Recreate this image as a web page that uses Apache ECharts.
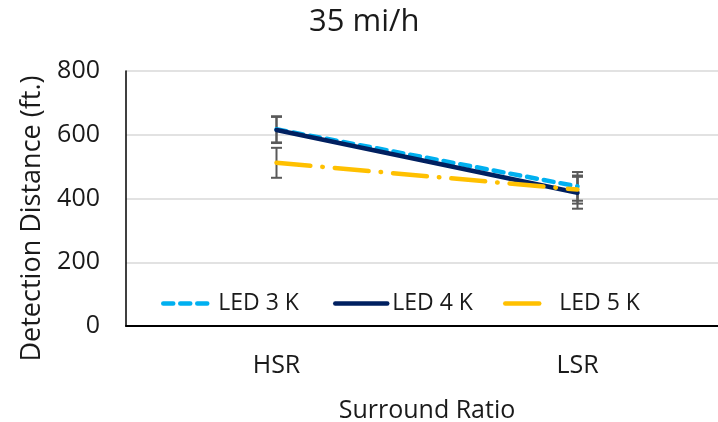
<!DOCTYPE html>
<html>
<head>
<meta charset="utf-8">
<script src="https://cdn.jsdelivr.net/npm/echarts@6/dist/echarts.min.js"></script>
<style>
  html, body { margin: 0; padding: 0; background: #fff; }
  #chart { width: 718px; height: 422px; }
</style>
</head>
<body>
<div id="chart"></div>
<script>
// Detection distance by surround ratio at 35 mi/h, for three LED colour temperatures
const categories = ['HSR', 'LSR'];
const yTicks = [0, 200, 400, 600, 800];

const led3k = [617, 438];
const led4k = [615, 418];
const led5k = [512, 428];

// half-width of the error bars (ft.)
const led3kErr = [41, 45];
const led4kErr = [41, 50];
const led5kErr = [47, 44];

const FONT = '"Open Sans", "Noto Sans", sans-serif';
const TEXT = '#1a1a1a';

function errorData(values, errs) {
  return values.map((v, i) => [i, v - errs[i], v + errs[i]]);
}

function errorSeries(values, errs) {
  return {
    type: 'custom',
    z: 1,
    silent: true,
    data: errorData(values, errs),
    renderItem: function (params, api) {
      const x = api.value(0);
      const lo = api.coord([x, api.value(1)]);
      const hi = api.coord([x, api.value(2)]);
      const half = 5.5;
      const style = { stroke: '#595959', lineWidth: 2 };
      return {
        type: 'group',
        children: [
          { type: 'line', shape: { x1: lo[0], y1: lo[1], x2: hi[0], y2: hi[1] }, style: style },
          { type: 'line', shape: { x1: lo[0] - half, y1: lo[1], x2: lo[0] + half, y2: lo[1] }, style: style },
          { type: 'line', shape: { x1: hi[0] - half, y1: hi[1], x2: hi[0] + half, y2: hi[1] }, style: style }
        ]
      };
    }
  };
}

function lineSeries(name, values, color, dash) {
  return {
    name: name,
    type: 'line',
    z: 3,
    data: values,
    symbol: 'none',
    lineStyle: { color: color, width: 4.5, type: dash, cap: 'round' },
    itemStyle: { color: color }
  };
}

function legendAt(left, name, width, textPad) {
  return {
    left: left,
    top: 287,
    data: [name],
    itemWidth: width,
    itemHeight: 14,
    itemGap: 0,
    itemStyle: { opacity: 0 },
    lineStyle: { width: 4.5, cap: 'round' },
    textStyle: { fontFamily: FONT, fontSize: 23, color: TEXT, padding: [0, 0, 0, textPad] },
    selectedMode: false
  };
}

const chart = echarts.init(document.getElementById('chart'), null, { renderer: 'canvas' });

chart.setOption({
  animation: false,
  backgroundColor: '#fff',
  title: {
    text: '35 mi/h',
    left: 304,
    top: 2,
    textStyle: { fontFamily: FONT, fontSize: 31, fontWeight: 'normal', color: TEXT }
  },
  legend: [
    legendAt(156, 'LED 3 K', 50, 0),
    legendAt(328, 'LED 4 K', 52, 0),
    legendAt(498, 'LED 5 K', 36, 13)
  ],
  grid: {
    left: 126, top: 71, width: 602, bottom: 96,
    containLabel: false,
    outerBoundsMode: 'none'
  },
  xAxis: {
    type: 'category',
    data: categories,
    boundaryGap: true,
    name: 'Surround Ratio',
    nameLocation: 'middle',
    nameGap: 72,
    nameTextStyle: { fontFamily: FONT, fontSize: 25, color: TEXT },
    axisLine: { lineStyle: { color: '#000', width: 2 } },
    axisTick: { show: false },
    axisLabel: { fontFamily: FONT, fontSize: 25, color: TEXT, margin: 27 }
  },
  yAxis: {
    type: 'value',
    min: yTicks[0],
    max: yTicks[yTicks.length - 1],
    interval: yTicks[1] - yTicks[0],
    name: 'Detection Distance (ft.)',
    nameLocation: 'middle',
    nameGap: 79,
    nameTextStyle: { fontFamily: FONT, fontSize: 27, color: TEXT, padding: [0, 40, 0, 0] },
    axisLine: { show: true, lineStyle: { color: '#000', width: 1.5 } },
    axisTick: { show: false },
    axisLabel: { fontFamily: FONT, fontSize: 25, color: TEXT, margin: 26 },
    splitLine: { lineStyle: { color: '#d9d9d9', width: 1.5 } }
  },
  series: [
    errorSeries(led3k, led3kErr),
    errorSeries(led4k, led4kErr),
    errorSeries(led5k, led5kErr),
    lineSeries('LED 3 K', led3k, '#00B0F0', [10, 7]),
    lineSeries('LED 4 K', led4k, '#002060', 'solid'),
    lineSeries('LED 5 K', led5k, '#FFC000', [34, 12, 0.5, 12])
  ]
});
</script>
</body>
</html>
